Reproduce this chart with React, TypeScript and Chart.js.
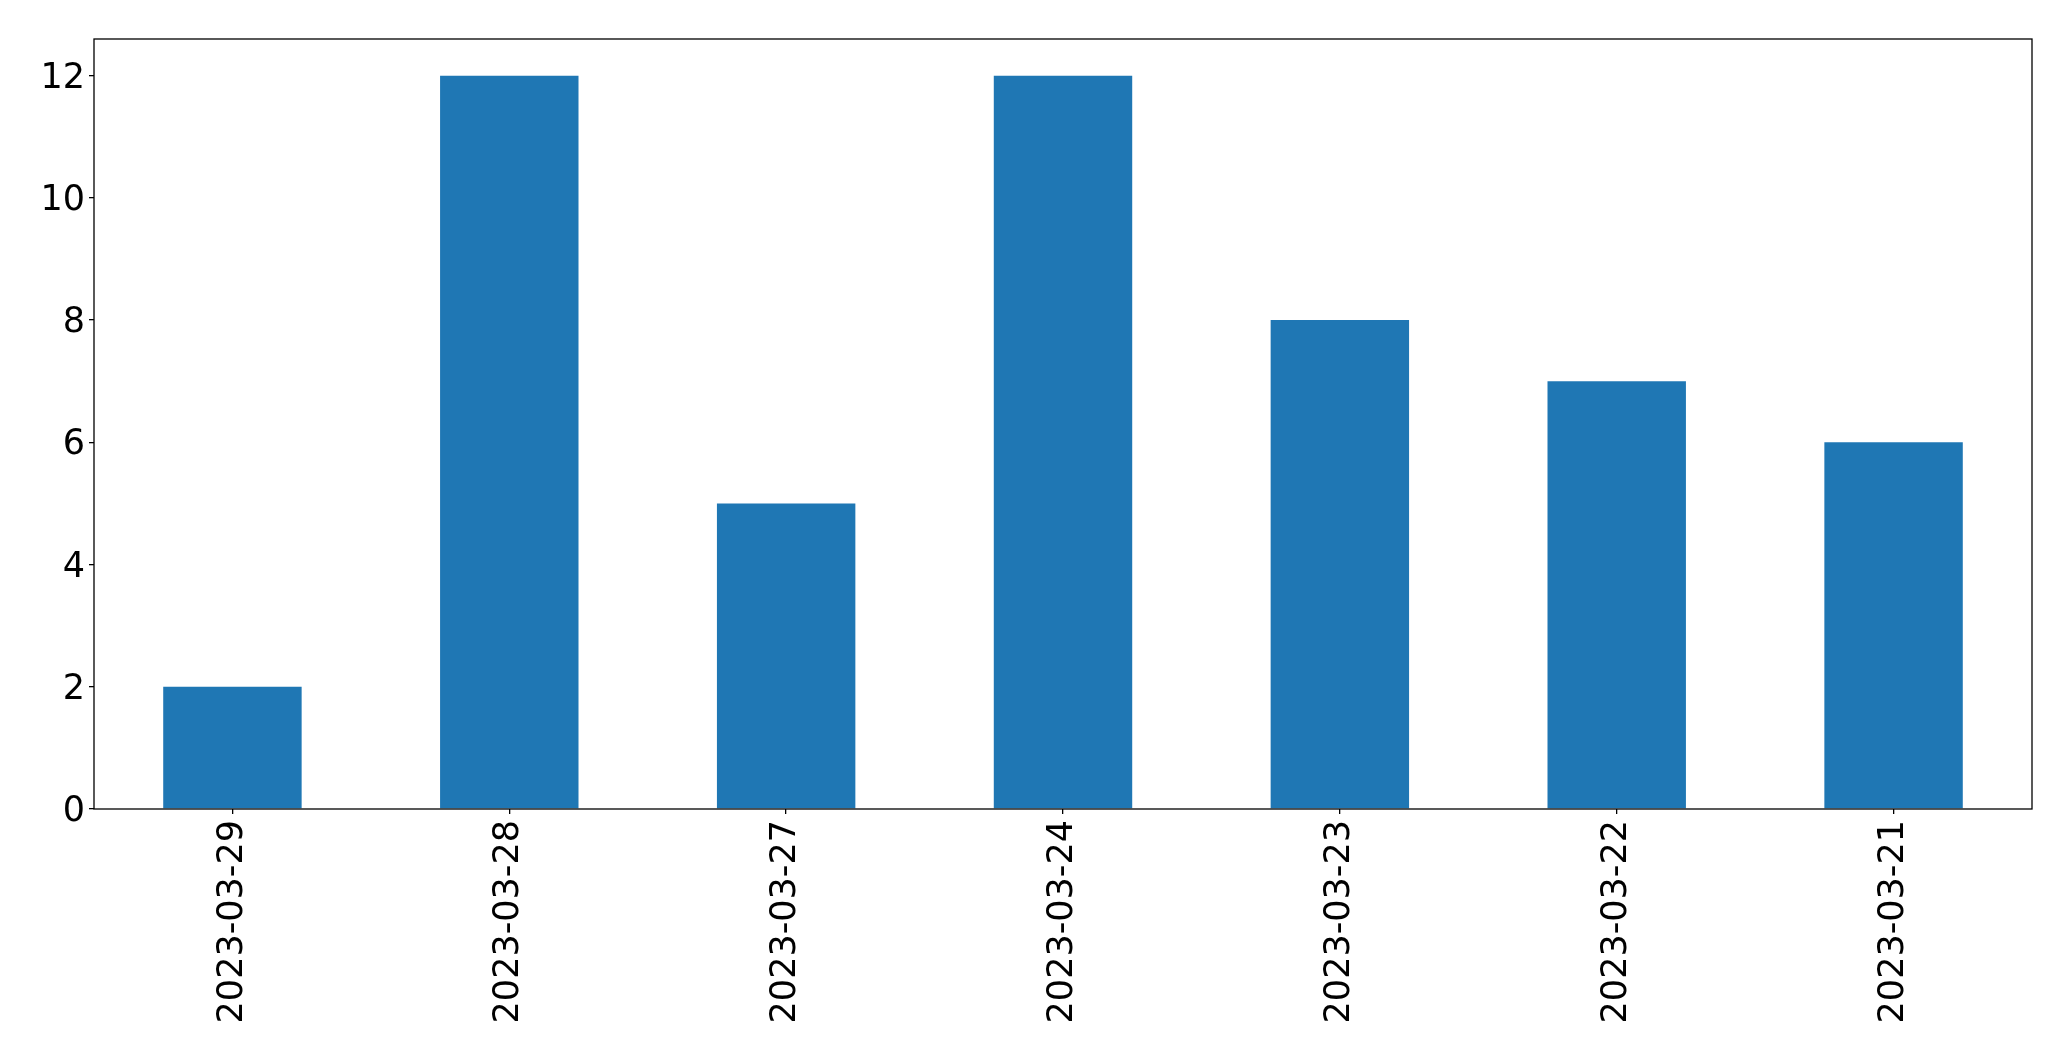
import React, { useEffect, useRef } from "react";
import { Chart, registerables } from "chart.js";

Chart.register(...registerables);

const categories = ["2023-03-29", "2023-03-28", "2023-03-27", "2023-03-24", "2023-03-23", "2023-03-22", "2023-03-21"];
const values = [2, 12, 5, 12, 8, 7, 6];
const yTicks = [0, 2, 4, 6, 8, 10, 12];

const W = 2071;
const H = 1061;
const FONT = "'DejaVu Sans', sans-serif";

const boxPlugin = {
  id: "boxPlugin",
  afterDraw(chart: any) {
    const { ctx, chartArea } = chart;
    ctx.save();
    ctx.strokeStyle = "#000";
    ctx.lineWidth = 1.3;
    ctx.strokeRect(chartArea.left, chartArea.top, chartArea.right - chartArea.left, chartArea.bottom - chartArea.top);
    ctx.restore();
  },
};

export default function App() {
  const ref = useRef<HTMLCanvasElement>(null);
  useEffect(() => {
    document.body.style.margin = "0";
    const chart = new Chart(ref.current!, {
      type: "bar",
      data: {
        labels: categories,
        datasets: [
          {
            data: values,
            backgroundColor: "#1f77b4",
            borderWidth: 0,
            categoryPercentage: 1,
            barPercentage: 0.5,
          },
        ],
      },
      options: {
        animation: false,
        responsive: false,
        maintainAspectRatio: false,
        layout: { padding: { left: 0, top: 39, right: 39, bottom: 0 } },
        plugins: { legend: { display: false }, tooltip: { enabled: false } },
        scales: {
          x: {
            grid: { display: true, offset: false, drawOnChartArea: false, drawTicks: true, tickLength: 5, color: "#000", lineWidth: 1.3 },
            border: { display: false },
            ticks: {
              color: "#000",
              font: { family: FONT, size: 35 },
              minRotation: 90,
              maxRotation: 90,
              padding: 6,
              autoSkip: false,
            },
            afterFit(scale: any) {
              scale.height = H - 809;
            },
          },
          y: {
            min: 0,
            max: 12.6,
            grid: { display: true, drawOnChartArea: false, drawTicks: true, tickLength: 5, color: "#000", lineWidth: 1.3 },
            border: { display: false },
            ticks: {
              color: "#000",
              font: { family: FONT, size: 35 },
              stepSize: 2,
              includeBounds: false,
              padding: 4,
              labelOffset: 3,
            },
            afterBuildTicks(scale: any) {
              scale.ticks = yTicks.map((v) => ({ value: v }));
            },
            afterFit(scale: any) {
              scale.width = 94;
            },
          },
        },
      },
      plugins: [boxPlugin],
    });
    return () => chart.destroy();
  }, []);
  return (
    <div style={{ position: "absolute", left: 0, top: 0, width: W, height: H, background: "#fff" }}>
      <canvas ref={ref} width={W} height={H} style={{ width: W, height: H }} />
    </div>
  );
}
